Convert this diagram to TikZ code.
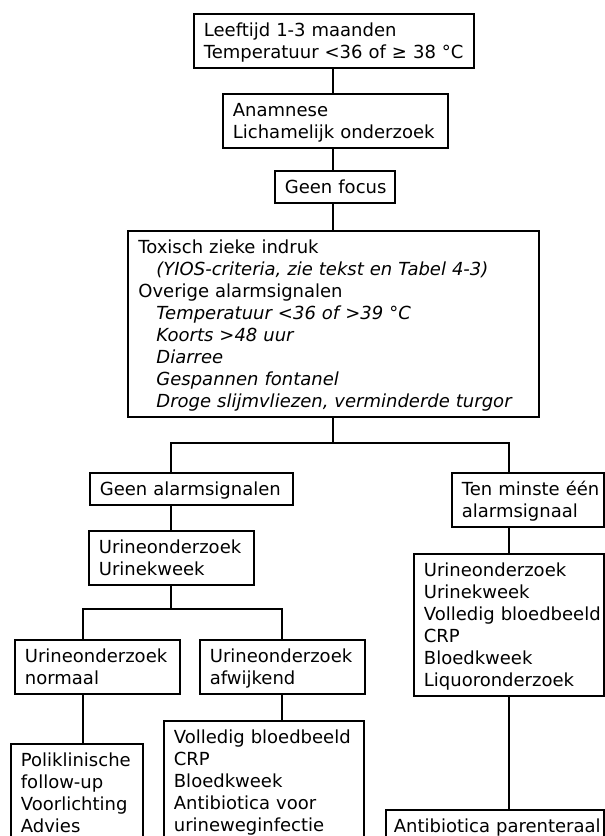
\documentclass[tikz,border=0pt]{standalone}
\usepackage{fontspec}
\setmainfont{DejaVu Sans}
\newcommand\bxfont{\fontsize{18}{22}\selectfont}
\newcommand\Ln[1]{\mbox{\rule[-4pt]{0pt}{22pt}#1}}
\newcommand\ind[1]{\hspace*{18pt}\textit{#1}}
\tikzset{
  box/.style={draw, line width=1.8pt, anchor=north west, align=left,
    inner xsep=10pt, inner ysep=5pt, font=\bxfont, fill=white},
  conn/.style={line width=1.8pt}
}
\hbadness=10000 \hfuzz=50pt
\begin{document}
\begin{tikzpicture}[x=1pt,y=-1pt]
\fill[white] (0,0) rectangle (605,836);
\useasboundingbox (0,0) rectangle (605,836);
% boxes
\node[box, text width=260pt] (top) at (193,13) {\Ln{Leeftijd 1-3 maanden}\\\Ln{Temperatuur <36 of ≥ 38 °C}};
\node[box, text width=205pt] (anam) at (222,93) {\Ln{Anamnese}\\\Ln{Lichamelijk onderzoek}};
\node[box, text width=100pt] (focus) at (274,170) {\Ln{Geen focus}};
\node[box, text width=390pt, inner xsep=10.5pt] (tox) at (127,230) {\Ln{Toxisch zieke indruk}\\
\Ln{\ind{(YIOS-criteria, zie tekst en Tabel 4-3)}}\\
\Ln{Overige alarmsignalen}\\
\Ln{\ind{Temperatuur <36 of >39 °C}}\\
\Ln{\ind{Koorts >48 uur}}\\
\Ln{\ind{Diarree}}\\
\Ln{\ind{Gespannen fontanel}}\\
\Ln{\ind{Droge slijmvliezen, verminderde turgor}}};
\node[box, text width=183pt] (geen) at (89,472) {\Ln{Geen alarmsignalen}};
\node[box, text width=132pt] (tenm) at (451,472) {\Ln{Ten minste één}\\\Ln{alarmsignaal}};
\node[box, text width=145pt] (urine) at (88,530) {\Ln{Urineonderzoek}\\\Ln{Urinekweek}};
\node[box, text width=170pt] (rlist) at (413,553) {\Ln{Urineonderzoek}\\\Ln{Urinekweek}\\\Ln{Volledig bloedbeeld}\\\Ln{CRP}\\\Ln{Bloedkweek}\\\Ln{Liquoronderzoek}};
\node[box, text width=145pt] (norm) at (14,639) {\Ln{Urineonderzoek}\\\Ln{normaal}};
\node[box, text width=145pt] (afw) at (199,639) {\Ln{Urineonderzoek}\\\Ln{afwijkend}};
\node[box, text width=112pt] (polik) at (10,743) {\Ln{Poliklinische}\\\Ln{follow-up}\\\Ln{Voorlichting}\\\Ln{Advies}};
\node[box, text width=180pt] (voll) at (163,720) {\Ln{Volledig bloedbeeld}\\\Ln{CRP}\\\Ln{Bloedkweek}\\\Ln{Antibiotica voor}\\\Ln{urineweginfectie}};
\node[box, text width=202pt, inner xsep=8pt] (par) at (385,809) {\Ln{Antibiotica parenteraal}};
% connector points
\coordinate (cx) at (333,0);
\coordinate (b1) at (333,443);
\coordinate (bl) at (171,443);
\coordinate (br) at (509,443);
\coordinate (b2) at (171,609);
\coordinate (bl2) at (83,609);
\coordinate (br2) at (282,609);
% connectors
\draw[conn] (top.south -| cx) -- (anam.north -| cx);
\draw[conn] (anam.south -| cx) -- (focus.north -| cx);
\draw[conn] (focus.south -| cx) -- (tox.north -| cx);
\draw[conn] (tox.south -| cx) -- (b1);
\draw[conn] (geen.north -| bl) -- (bl) -- (br) -- (tenm.north -| br);
\draw[conn] (geen.south -| bl) -- (urine.north -| bl);
\draw[conn] (urine.south -| b2) -- (b2);
\draw[conn] (norm.north -| bl2) -- (bl2) -- (br2) -- (afw.north -| br2);
\draw[conn] (norm.south -| bl2) -- (polik.north -| bl2);
\draw[conn] (afw.south -| br2) -- (voll.north -| br2);
\draw[conn] (tenm.south -| br) -- (rlist.north -| br);
\draw[conn] (rlist.south -| br) -- (par.north -| br);
\end{tikzpicture}
\end{document}
